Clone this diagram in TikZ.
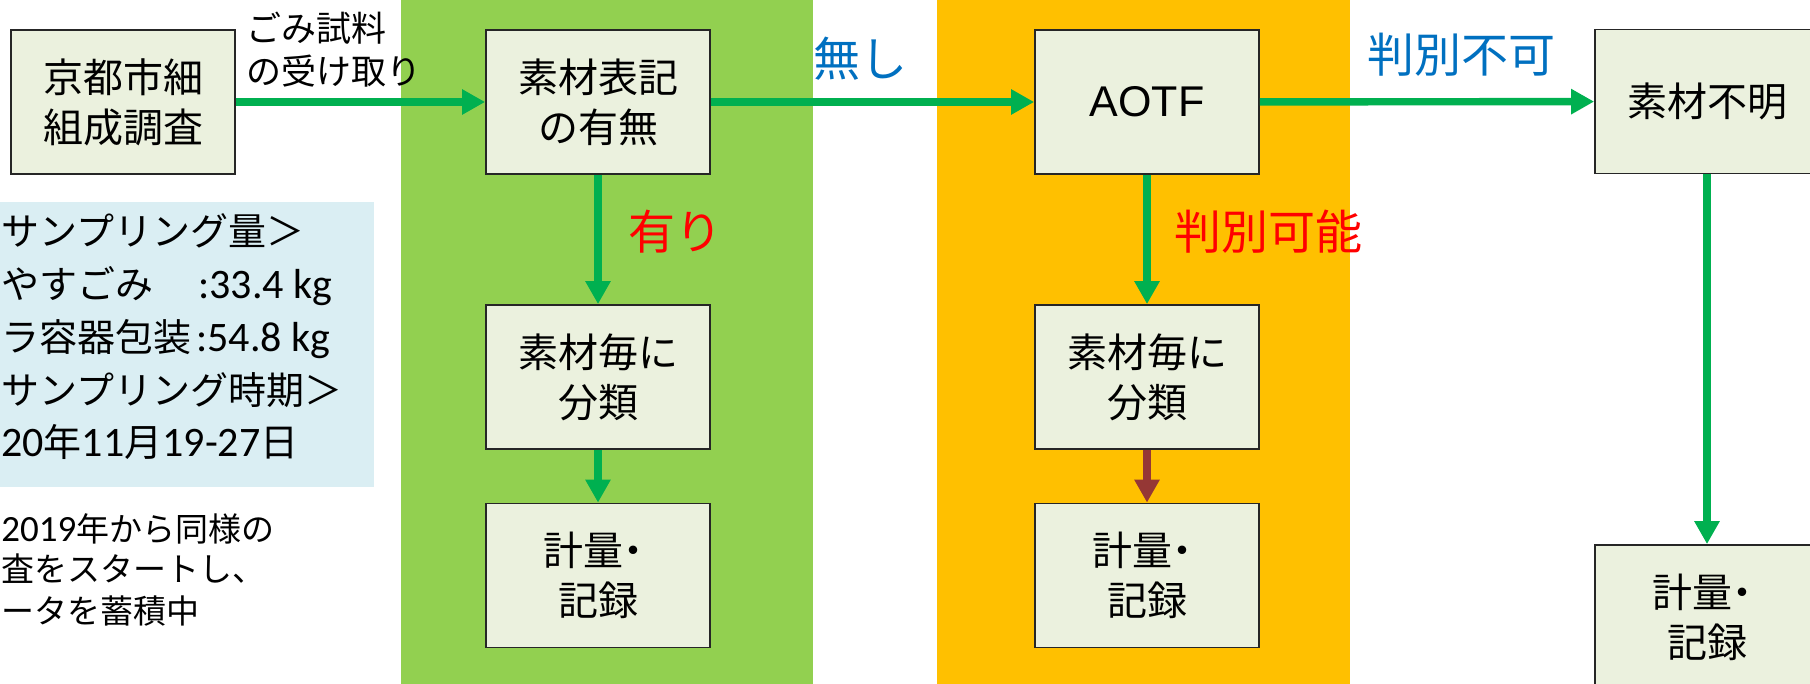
\documentclass[tikz,border=0pt]{standalone}
\usepackage{fontspec}
\setmainfont{Noto Sans CJK JP}
\newfontfamily\lat{Carlito}
\newfontfamily\arl{Liberation Sans}
\usetikzlibrary{arrows.meta}
\definecolor{boxfill}{HTML}{EBF1DE}
\definecolor{arrgreen}{HTML}{00B050}
\definecolor{bandgreen}{HTML}{92D050}
\definecolor{bandorange}{HTML}{FFC000}
\definecolor{infoblue}{HTML}{DAEEF3}
\definecolor{lblblue}{HTML}{0070C0}
\definecolor{lblred}{HTML}{FF0000}
\definecolor{brownarr}{HTML}{953735}
\newcommand{\keiryotext}{計量\kern-0.25em・\\記録}
\begin{document}
\begin{tikzpicture}[x=0.5pt,y=-0.5pt,
  stepbox/.style={draw=black!85, line width=0.9pt, fill=boxfill,
    minimum width=112pt, minimum height=72pt, inner sep=0pt, align=center,
    font=\fontsize{20}{25}\selectfont},
  flow/.style={draw=arrgreen, fill=arrgreen, line width=3.7pt,
    -{Triangle[length=11.5pt,width=12pt]}},
  flowbrown/.style={flow, draw=brownarr, fill=brownarr},
  lbl/.style={inner sep=0pt, font=\fontsize{23.5}{23.5}\selectfont},
  infoline/.style={anchor=base west, inner sep=0pt, font=\fontsize{19}{20}\selectfont},
  noteline/.style={anchor=base west, inner sep=0pt, font=\fontsize{16.5}{18}\selectfont}
]
\useasboundingbox (0,0) rectangle (1810,684);
\clip (0,0) rectangle (1810,684);
\fill[white] (0,0) rectangle (1810,684);
% bands
\fill[bandgreen] (401,0) rectangle (813,684);
\fill[bandorange] (937,0) rectangle (1350,684);
% info box
\fill[infoblue] (0,202) rectangle (374,487);
\node[infoline] (info1) at (1,246) {サンプリング量＞};
\node[infoline] (info2) at (1,299) {\makebox[98.5pt][l]{やすごみ}{\lat\fontsize{21}{20}\selectfont :33.4 kg}};
\node[infoline] (info3) at (1,351) {ラ容器包装\kern2.5pt{\lat\fontsize{21}{20}\selectfont :54.8 kg}};
\node[infoline] (info4) at (1,404) {サンプリング時期＞};
\node[infoline] (info5) at (1,456) {{\lat\fontsize{21}{20}\selectfont 20}年{\lat\fontsize{21}{20}\selectfont 11}月{\lat\fontsize{21}{20}\selectfont 19-27}日};
\node[noteline] (note1) at (1,541) {{\lat\fontsize{18.5}{18}\selectfont 2019}年から同様の};
\node[noteline] (note2) at (1,581) {査をスタートし、};
\node[noteline] (note3) at (1,623) {ータを蓄積中};
% boxes
\node[stepbox] (kyoto) at (123,102) {京都市細\\組成調査};
\node[stepbox] (hyoki) at (598,102) {素材表記\\の有無};
\node[stepbox] (bunrui1) at (598,377) {素材毎に\\分類};
\node[stepbox] (keiryo1) at (598,575.5) {\keiryotext};
\node[stepbox, font=\arl\fontsize{21.5}{25}\selectfont] (aotf) at (1147,102) {AOTF};
\node[stepbox] (bunrui2) at (1147,377) {素材毎に\\分類};
\node[stepbox] (keiryo2) at (1147,575.5) {\keiryotext};
\node[stepbox] (fumei) at (1707,101.5) {素材不明};
\node[stepbox] (keiryo3) at (1707,617) {\keiryotext};
% labels
\node[anchor=west, inner sep=0pt, align=left, font=\fontsize{17.5}{21.5}\selectfont] (uketori) at (246,49.5) {ごみ試料\\の受け取り};
\node[lbl, lblred, anchor=west] (ari) at (628,232) {有り};
\node[lbl, lblblue] (nashi) at (860,59) {無し};
\node[lbl, lblred, anchor=west] (kanou) at (1174,232) {判別可能};
\node[lbl, lblblue] (fuka) at (1461,55) {判別不可};
% connectors
\draw[flow] (kyoto) -- (hyoki);
\draw[flow] (hyoki) -- (aotf);
\draw[flow] (aotf) -- (fumei);
\draw[flow] (hyoki) -- (bunrui1);
\draw[flow] (bunrui1) -- (keiryo1);
\draw[flow] (aotf) -- (bunrui2);
\draw[flowbrown] (bunrui2) -- (keiryo2);
\draw[flow] (fumei) -- (keiryo3);
\end{tikzpicture}
\end{document}
